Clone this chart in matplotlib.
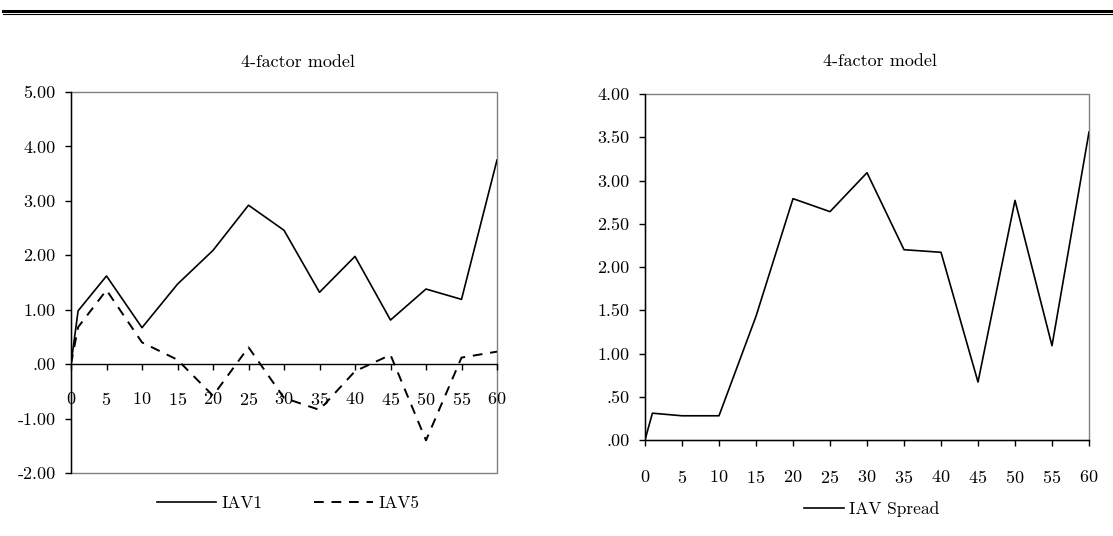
import numpy as np
import matplotlib.pyplot as plt
from matplotlib.ticker import FuncFormatter
from matplotlib.lines import Line2D
from matplotlib.patches import Rectangle

plt.rcParams['font.family'] = ['cmr10', 'DejaVu Serif']
plt.rcParams['axes.unicode_minus'] = False
plt.rcParams['axes.formatter.use_mathtext'] = True

# data
x = [0, 1, 5, 10, 15, 20, 25, 30, 35, 40, 45, 50, 55, 60]
iav1 = [0, 0.98, 1.62, 0.67, 1.47, 2.09, 2.92, 2.46, 1.32, 1.98, 0.81, 1.38, 1.19, 3.75]
iav5 = [0, 0.68, 1.36, 0.40, 0.08, -0.58, 0.31, -0.62, -0.84, -0.13, 0.17, -1.40, 0.12, 0.23]
spread = [0, 0.31, 0.28, 0.28, 1.43, 2.79, 2.64, 3.09, 2.20, 2.17, 0.67, 2.77, 1.09, 3.56]
xticks = list(range(0, 61, 5))
title = "4-factor model"


def fmt(v, pos):
    s = "%.2f" % v
    if s.startswith("0."):
        s = s[1:]
    elif s.startswith("-0."):
        s = "-" + s[2:]
    return s


W, H = 1113, 536
fig = plt.figure(figsize=(W / 100, H / 100), dpi=100)

# double rule at the top
fig.add_artist(Line2D([3 / W, 1], [1 - 10.5 / H] * 2, color='black', lw=2.2))
fig.add_artist(Line2D([3 / W, 1], [1 - 13.8 / H] * 2, color='black', lw=0.8))

ax1 = fig.add_axes([71 / W, (H - 473) / H, 426 / W, 381 / H])
ax2 = fig.add_axes([645 / W, (H - 440) / H, 444 / W, 346 / H])

fs = 13
lfs = 12.5

for ax in (ax1, ax2):
    ax.set_xlim(0, 60)
    ax.set_xticks(xticks)
    ax.yaxis.set_major_formatter(FuncFormatter(fmt))
    for s in ('top', 'right'):
        ax.spines[s].set_visible(False)
    ax.add_patch(Rectangle((0, 0), 1, 1, transform=ax.transAxes, fill=False,
                           edgecolor='#808080', lw=1.0, clip_on=False, zorder=0))
    ax.spines['left'].set_linewidth(1.0)
    ax.spines['bottom'].set_linewidth(1.0)
    ax.tick_params(axis='y', direction='out', length=4, width=1, pad=7, labelsize=fs)
    ax.tick_params(axis='x', direction='out', length=4, width=1, labelsize=fs)

# left panel
ax1.plot(x, iav1, color='black', lw=1.2, label='IAV1')
ax1.plot(x, iav5, color='black', lw=1.4, ls=(0, (5, 4)), label='IAV5')
ax1.set_ylim(-2, 5)
ax1.set_yticks(np.arange(-2, 5.01, 1))
ax1.spines['bottom'].set_position(('data', 0))
ax1.tick_params(axis='x', pad=15)
t1 = ax1.set_title(title, fontsize=fs, pad=18)
t1.set_x(0.533)
ax1.legend(loc='center', bbox_to_anchor=(0.51, -0.08), ncol=2, frameon=False,
           handlelength=3.4, handletextpad=0.3, columnspacing=3.0, fontsize=lfs)

# right panel
ax2.plot(x, spread, color='black', lw=1.2, label='IAV Spread')
ax2.set_ylim(0, 4)
ax2.set_yticks(np.arange(0, 4.01, 0.5))
ax2.tick_params(axis='x', pad=17)
t2 = ax2.set_title(title, fontsize=fs, pad=20)
t2.set_x(0.529)
ax2.legend(loc='center', bbox_to_anchor=(0.51, -0.2), frameon=False,
           handlelength=2.3, handletextpad=0.3, fontsize=lfs)

fig.savefig('out.png', dpi=100)
